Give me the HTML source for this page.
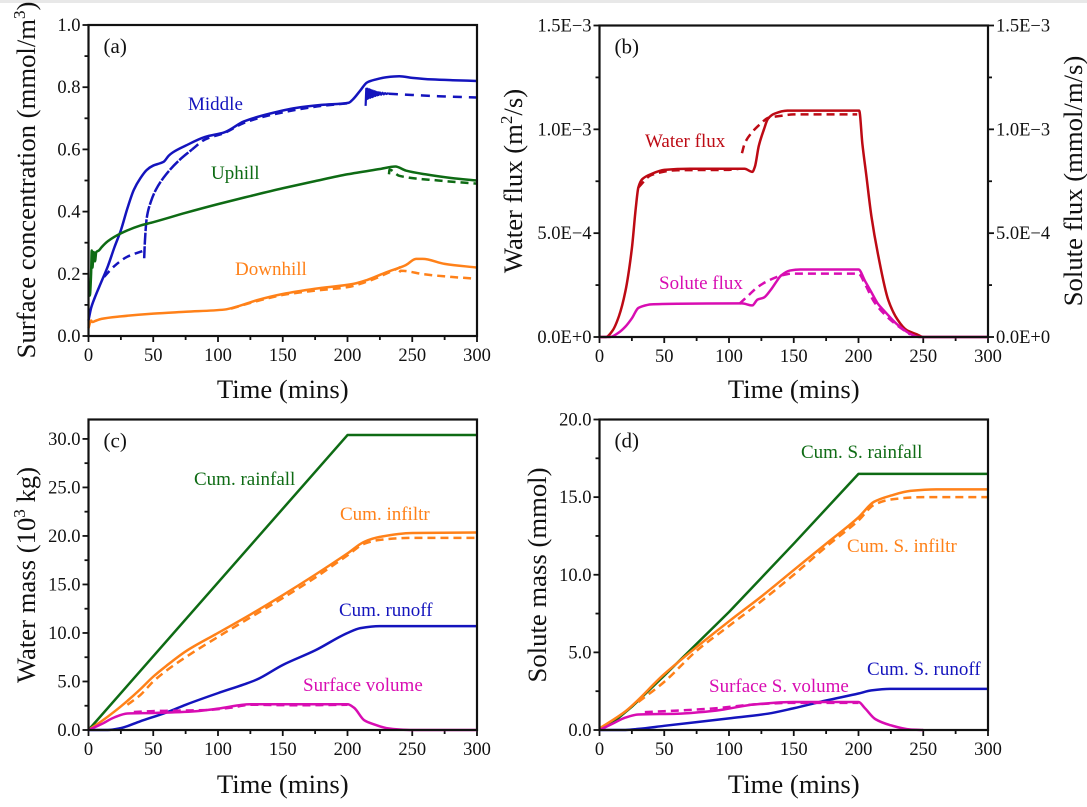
<!DOCTYPE html>
<html lang="en">
<head>
<meta charset="utf-8">
<title>Surface concentration, flux and mass charts</title>
<style>
html,body{margin:0;padding:0;background:#fff;width:1087px;height:807px;overflow:hidden}
svg{display:block;font-family:"Liberation Serif",serif}
</style>
</head>
<body>
<svg id="chart" xmlns="http://www.w3.org/2000/svg" width="1087" height="807" viewBox="0 0 1087 807"></svg>
<script>
// Shared axis data
const xTickValues = [0, 50, 100, 150, 200, 250, 300];
const aYTicks = [0, 0.2, 0.4, 0.6, 0.8, 1.0];
const bYTicks = [0, 0.5, 1.0, 1.5];
const bYTickLabels = ['0.0E+0', '5.0E\u22124', '1.0E\u22123', '1.5E\u22123'];
const cYTicks = [0, 5, 10, 15, 20, 25, 30];
const dYTicks = [0, 5, 10, 15, 20];

// Panel (a)
const aMiddleT = [0,2,5,10,15,20,25,30,35,40,45,50,55,58,62,65,75,90,105,120,140,160,180,201,204,210,215,222,230,240,250,265,285,300];
const aMiddleV = [0.05,0.09,0.125,0.175,0.225,0.285,0.34,0.41,0.47,0.507,0.534,0.548,0.555,0.56,0.58,0.59,0.612,0.64,0.655,0.69,0.715,0.733,0.743,0.75,0.76,0.79,0.815,0.825,0.832,0.835,0.83,0.825,0.822,0.82];
const aMiddleDash1T = [12,20,30,43];
const aMiddleDash1V = [0.19,0.225,0.255,0.275];
const aMiddleDash2T = [43,43.5,45,48,52,60,70,80];
const aMiddleDash2V = [0.25,0.3,0.38,0.43,0.47,0.52,0.565,0.6];
const aMiddleDash3T = [80,90,105,120,140,160,180,200];
const aMiddleDash3V = [0.6,0.632,0.653,0.685,0.71,0.727,0.74,0.748];
const aMiddleWedgeT = [214,214.5,215,215.5,216,217,217.5,218,219,219.5,220,221,221.5,222,223,223.5,224,225,226,227,228,229,230,231,232];
const aMiddleWedgeV = [0.74,0.795,0.762,0.795,0.764,0.793,0.766,0.791,0.768,0.789,0.77,0.787,0.772,0.785,0.774,0.784,0.775,0.783,0.776,0.782,0.777,0.781,0.778,0.78,0.779];
const aMiddleTailT = [232,250,270,300];
const aMiddleTailV = [0.779,0.775,0.771,0.767];
const aUphillT = [0,1,2,2.5,3,4,5,6,8,10,15,25,40,50,75,100,125,150,175,200,225,237,245,260,280,300];
const aUphillV = [0.13,0.13,0.2,0.275,0.22,0.27,0.24,0.27,0.275,0.285,0.305,0.33,0.355,0.366,0.396,0.424,0.45,0.475,0.498,0.52,0.537,0.545,0.532,0.52,0.508,0.5];
const aUphillDashT = [232,232.5,240,270,300];
const aUphillDashV = [0.52,0.535,0.515,0.5,0.49];
const aDownhillT = [0,1,2,3,5,10,25,50,75,105,115,130,150,175,205,215,230,245,253,258,275,300];
const aDownhillV = [0.025,0.04,0.05,0.045,0.048,0.055,0.063,0.072,0.078,0.085,0.095,0.115,0.135,0.152,0.168,0.18,0.205,0.228,0.248,0.248,0.232,0.22];
const aDownhillDash1T = [110,130,150,175,200,215,235,241];
const aDownhillDash1V = [0.088,0.112,0.132,0.146,0.157,0.175,0.21,0.222];
const aDownhillDash2T = [240,241,260,280,300];
const aDownhillDash2V = [0.205,0.21,0.198,0.19,0.184];

// Panel (b)
const bWaterT = [0,5,10,15,20,25,28,30,33,40,50,70,105,112,118,120,123,127,130,135,145,199,200.5,203,206,210,215,223,230,237,245,250,300];
const bWaterV = [0,0,0.03,0.1,0.22,0.427,0.62,0.72,0.76,0.785,0.805,0.81,0.81,0.81,0.795,0.82,0.92,1.0,1.05,1.075,1.09,1.09,1.09,0.93,0.78,0.58,0.4,0.178,0.085,0.034,0.013,0,0];
const bWaterDashT = [30,40,60,100,108];
const bWaterDashV = [0.72,0.78,0.803,0.805,0.81];
const bWaterDash2T = [110,112,117,125,130,140,150,199];
const bWaterDash2V = [0.885,0.93,0.98,1.03,1.055,1.065,1.072,1.072];
const bSoluteT = [0,8,15,20,25,30,33,40,60,110,118,122,127,132,137,140,147,155,200,205,210,215,220,230,240,247,250,300];
const bSoluteV = [0,0,0.022,0.05,0.09,0.14,0.148,0.157,0.16,0.162,0.152,0.18,0.19,0.225,0.27,0.295,0.32,0.325,0.325,0.27,0.215,0.16,0.125,0.06,0.015,0,0,0];
const bSoluteDashT = [108,115,122,130,140,148,200,205,212,220,230,240];
const bSoluteDashV = [0.16,0.2,0.24,0.27,0.295,0.305,0.305,0.255,0.17,0.11,0.055,0.012];

// Panel (c)
const cRainT = [0,200,300];
const cRainV = [0,30.4,30.4];
const cInfilT = [0,10,20,30,40,50,60,75,100,125,150,175,200,213,225,250,300];
const cInfilV = [0,0.9,1.9,3.0,4.2,5.5,6.6,8.1,10,11.9,13.9,16,18.2,19.4,19.9,20.3,20.35];
const cInfilDashT = [30,40,50,60,75,100,125,150,175,200,213,225,250,300];
const cInfilDashV = [2.6,3.6,5,6.1,7.5,9.6,11.6,13.6,15.7,18,19.2,19.6,19.8,19.8];
const cRunoffT = [0,15,25,40,60,75,100,120,130,150,175,200,210,225,300];
const cRunoffV = [0,0,0.2,0.9,1.8,2.6,3.8,4.7,5.2,6.7,8.2,10,10.5,10.7,10.7];
const cSurfaceT = [0,10,20,30,50,80,100,125,200,205,213,220,230,240,250,300];
const cSurfaceV = [0,0.6,1.3,1.7,1.75,1.9,2.2,2.65,2.65,2.3,1,0.6,0.2,0.05,0,0];
const cSurfaceDashT = [35,50,70,90,110,125,160,200];
const cSurfaceDashV = [1.85,1.95,2,2.05,2.3,2.6,2.55,2.6];

// Panel (d)
const dRainT = [0,10,25,50,100,150,200,300];
const dRainV = [0,0.45,1.5,3.5,7.6,12,16.5,16.5];
const dInfilT = [0,20,50,100,125,150,175,200,212,225,240,260,300];
const dInfilV = [0.1,1.2,3.6,7.0,8.6,10.3,12,13.7,14.7,15.1,15.4,15.5,15.5];
const dInfilDashT = [30,50,75,100,125,150,175,200,212,225,250,300];
const dInfilDashV = [1.8,3.1,5.1,6.7,8.3,10,11.8,13.5,14.5,14.85,15,15];
const dRunoffT = [0,20,30,50,100,130,150,175,200,210,225,300];
const dRunoffV = [0,0,0.07,0.27,0.75,1.05,1.4,1.9,2.35,2.55,2.65,2.65];
const dSurfaceT = [0,10,20,30,60,90,120,150,200,205,213,225,240,250];
const dSurfaceV = [0,0.4,0.8,1.0,1.05,1.25,1.65,1.8,1.8,1.4,0.7,0.3,0.03,0];
const dSurfaceDashT = [35,60,90,120,150,200];
const dSurfaceDashV = [1.15,1.25,1.4,1.65,1.75,1.75];

const BLUE = '#1414bd', GREEN = '#0e6b14', ORANGE = '#ff8119', RED = '#bd0a14', MAGENTA = '#d80db2';
const svg = document.getElementById('chart');
const NS = 'http://www.w3.org/2000/svg';

function make(tag, attrs, name, parent) {
  const el = document.createElementNS(NS, tag);
  for (const k in attrs) el.setAttribute(k, attrs[k]);
  
  
  (parent || svg).appendChild(el);
  return el;
}
function label(x, y, str, size, fill, anchor, name, parent) {
  const t = make('text', {x: x, y: y, 'font-size': size, fill: fill, 'text-anchor': anchor}, name, parent);
  t.textContent = str;
  return t;
}
function rotLabel(x, y, parts, name) {
  const t = make('text', {transform: 'translate(' + x + ',' + y + ') rotate(-90)', 'font-size': 26.7, fill: '#111', 'text-anchor': 'middle'}, name);
  parts.forEach(function (p) {
    const s = document.createElementNS(NS, 'tspan');
    s.textContent = p[0];
    if (p[1]) { s.setAttribute('dy', '-10'); s.setAttribute('font-size', '17'); }
    if (p[2]) { s.setAttribute('dy', '10'); }
    t.appendChild(s);
  });
}
// Monotone cubic path through pixel points so curves stay smooth without overshoot.
function smoothPath(px, py) {
  const n = px.length, d = [], m = [];
  for (let i = 0; i < n - 1; i++) d.push((py[i + 1] - py[i]) / ((px[i + 1] - px[i]) || 0.001));
  m[0] = d[0];
  m[n - 1] = d[n - 2];
  for (let i = 1; i < n - 1; i++) {
    if (d[i - 1] * d[i] <= 0) { m[i] = 0; continue; }
    const h0 = px[i] - px[i - 1], h1 = px[i + 1] - px[i];
    m[i] = (3 * (h0 + h1)) / ((2 * h1 + h0) / d[i - 1] + (h1 + 2 * h0) / d[i]);
  }
  let out = 'M' + px[0].toFixed(2) + ' ' + py[0].toFixed(2);
  for (let i = 0; i < n - 1; i++) {
    const h = (px[i + 1] - px[i]) / 3;
    out += 'C' + (px[i] + h).toFixed(2) + ' ' + (py[i] + m[i] * h).toFixed(2) + ' ' +
      (px[i + 1] - h).toFixed(2) + ' ' + (py[i + 1] - m[i + 1] * h).toFixed(2) + ' ' +
      px[i + 1].toFixed(2) + ' ' + py[i + 1].toFixed(2);
  }
  return out;
}

function panel(p) {
  const g = make('g', {}, 'panel-' + p.id);
  const sx = function (v) { return p.x0 + v / 300 * (p.x1 - p.x0); };
  const sy = function (v) { return p.y0 - v / p.yMax * (p.y0 - p.y1); };
  const ink = '#111';
  function tick(x1, y1, x2, y2, name) {
    make('line', {x1: x1, y1: y1, x2: x2, y2: y2, stroke: ink, 'stroke-width': 1.8}, name, g);
  }
  xTickValues.forEach(function (v, i) {
    tick(sx(v), p.y0, sx(v), p.y0 + 6, 'x-tick');
    label(sx(v), p.y0 + 25, String(v), 18.5, ink, 'middle', 'x-tick-label', g);
    if (i < xTickValues.length - 1) tick(sx(v + 25), p.y0, sx(v + 25), p.y0 + 4, 'x-minor-tick');
  });
  p.yTicks.forEach(function (v, i) {
    const txt = p.yLabels ? p.yLabels[i] : v.toFixed(1);
    tick(p.x0 - 6, sy(v), p.x0, sy(v), 'y-tick');
    label(p.x0 - 8, sy(v) + 6, txt, 18.5, ink, 'end', 'y-tick-label', g);
    if (p.right) {
      tick(p.x1, sy(v), p.x1 + 6, sy(v), 'right-y-tick');
      label(p.x1 + 8, sy(v) + 6, txt, 18.5, ink, 'start', 'right-y-tick-label', g);
    }
    const mid = v + p.yMinor;
    if (mid < p.yMax) {
      tick(p.x0 - 4, sy(mid), p.x0, sy(mid), 'y-minor-tick');
      if (p.right) tick(p.x1, sy(mid), p.x1 + 4, sy(mid), 'right-y-minor-tick');
    }
  });
  p.series.forEach(function (s) {
    const attrs = {fill: 'none', stroke: s.c, 'stroke-width': s.w || 2.5, 'stroke-linejoin': 'round'};
    if (s.dash) attrs['stroke-dasharray'] = s.dash;
    if (s.sharp) {
      attrs.points = s.t.map(function (t, i) { return sx(t).toFixed(2) + ',' + sy(s.v[i]).toFixed(2); }).join(' ');
      make('polyline', attrs, s.name, g);
    } else {
      attrs.d = smoothPath(s.t.map(sx), s.v.map(sy));
      make('path', attrs, s.name, g);
    }
  });
  make('rect', {x: p.x0, y: p.y1, width: p.x1 - p.x0, height: p.y0 - p.y1, fill: 'none', stroke: ink, 'stroke-width': 2.2}, 'plot-frame', g);
  label(p.x0 + 15, p.y1 + 28, p.tag, 21, ink, 'start', 'panel-tag', g);
  p.notes.forEach(function (n) {
    label(n[0], n[1], n[2], 19, n[3], 'start', 'series-label', g);
  });
  label((p.x0 + p.x1) / 2, p.titleY, 'Time (mins)', 26.7, ink, 'middle', 'x-axis-title', g);
}

make('rect', {x: 0, y: 0, width: 1087, height: 3, fill: '#e8e8e8'}, 'top-edge-strip');

panel({id: 'a', tag: '(a)', x0: 88.5, x1: 477, y0: 336, y1: 25, yMax: 1.0, yTicks: aYTicks, yMinor: 0.1, titleY: 398,
  series: [
    {t: aMiddleT, v: aMiddleV, c: BLUE, name: 'middle-measured-line'},
    {t: aMiddleDash1T, v: aMiddleDash1V, c: BLUE, dash: '8 5', name: 'middle-simulated-early'},
    {t: aMiddleDash2T, v: aMiddleDash2V, c: BLUE, dash: '12 1.5', name: 'middle-simulated-rise'},
    {t: aMiddleDash3T, v: aMiddleDash3V, c: BLUE, dash: '8 5', name: 'middle-simulated-mid'},
    {t: aMiddleWedgeT, v: aMiddleWedgeV, c: BLUE, w: 2.2, sharp: true, name: 'middle-simulated-oscillation'},
    {t: aMiddleTailT, v: aMiddleTailV, c: BLUE, dash: '9 7', name: 'middle-simulated-tail'},
    {t: aUphillT, v: aUphillV, c: GREEN, name: 'uphill-measured-line'},
    {t: aUphillDashT, v: aUphillDashV, c: GREEN, dash: '8 5', name: 'uphill-simulated-tail'},
    {t: aDownhillT, v: aDownhillV, c: ORANGE, name: 'downhill-measured-line'},
    {t: aDownhillDash1T, v: aDownhillDash1V, c: ORANGE, dash: '8 5', name: 'downhill-simulated-mid'},
    {t: aDownhillDash2T, v: aDownhillDash2V, c: ORANGE, dash: '8 5', name: 'downhill-simulated-tail'}
  ],
  notes: [[188, 110, 'Middle', BLUE], [211, 179, 'Uphill', GREEN], [235, 275, 'Downhill', ORANGE]]});

panel({id: 'b', tag: '(b)', x0: 599.5, x1: 988, y0: 337, y1: 25.5, yMax: 1.5, yTicks: bYTicks, yLabels: bYTickLabels, yMinor: 0.25, right: true, titleY: 398,
  series: [
    {t: bWaterT, v: bWaterV, c: RED, name: 'water-flux-line'},
    {t: bWaterDashT, v: bWaterDashV, c: RED, dash: '8 5', name: 'water-flux-dashed-early'},
    {t: bWaterDash2T, v: bWaterDash2V, c: RED, dash: '8 5', name: 'water-flux-dashed-late'},
    {t: bSoluteT, v: bSoluteV, c: MAGENTA, name: 'solute-flux-line'},
    {t: bSoluteDashT, v: bSoluteDashV, c: MAGENTA, dash: '8 5', name: 'solute-flux-dashed'}
  ],
  notes: [[645, 147, 'Water flux', RED], [659, 289, 'Solute flux', MAGENTA]]});

panel({id: 'c', tag: '(c)', x0: 88.5, x1: 477, y0: 730, y1: 419.5, yMax: 32, yTicks: cYTicks, yMinor: 2.5, titleY: 793,
  series: [
    {t: cRainT, v: cRainV, c: GREEN, sharp: true, name: 'cum-rainfall-line'},
    {t: cInfilT, v: cInfilV, c: ORANGE, name: 'cum-infiltration-line'},
    {t: cInfilDashT, v: cInfilDashV, c: ORANGE, dash: '8 5', name: 'cum-infiltration-dashed'},
    {t: cRunoffT, v: cRunoffV, c: BLUE, name: 'cum-runoff-line'},
    {t: cSurfaceT, v: cSurfaceV, c: MAGENTA, name: 'surface-volume-line'},
    {t: cSurfaceDashT, v: cSurfaceDashV, c: MAGENTA, dash: '8 5', name: 'surface-volume-dashed'}
  ],
  notes: [[194, 485, 'Cum. rainfall', GREEN], [340, 520, 'Cum. infiltr', ORANGE], [339, 616, 'Cum. runoff', BLUE], [303, 691, 'Surface volume', MAGENTA]]});

panel({id: 'd', tag: '(d)', x0: 599.5, x1: 988, y0: 730, y1: 419.5, yMax: 20, yTicks: dYTicks, yMinor: 2.5, titleY: 793,
  series: [
    {t: dRainT, v: dRainV, c: GREEN, sharp: true, name: 'cum-solute-rainfall-line'},
    {t: dInfilT, v: dInfilV, c: ORANGE, name: 'cum-solute-infiltration-line'},
    {t: dInfilDashT, v: dInfilDashV, c: ORANGE, dash: '8 5', name: 'cum-solute-infiltration-dashed'},
    {t: dRunoffT, v: dRunoffV, c: BLUE, name: 'cum-solute-runoff-line'},
    {t: dSurfaceT, v: dSurfaceV, c: MAGENTA, name: 'surface-solute-volume-line'},
    {t: dSurfaceDashT, v: dSurfaceDashV, c: MAGENTA, dash: '8 5', name: 'surface-solute-volume-dashed'}
  ],
  notes: [[801, 458, 'Cum. S. rainfall', GREEN], [847, 552, 'Cum. S. infiltr', ORANGE], [867, 675, 'Cum. S. runoff', BLUE], [709, 692, 'Surface S. volume', MAGENTA]]});

rotLabel(35, 180, [['Surface concentration (mmol/m'], ['3', true], [')', false, true]], 'panel-a-y-axis-title');
rotLabel(522, 181, [['Water flux (m'], ['2', true], ['/s)', false, true]], 'panel-b-y-axis-title');
rotLabel(1082, 181, [['Solute flux (mmol/m/s)']], 'panel-b-right-y-axis-title');
rotLabel(35, 575, [['Water mass (10'], ['3', true], [' kg)', false, true]], 'panel-c-y-axis-title');
rotLabel(546, 575, [['Solute mass (mmol)']], 'panel-d-y-axis-title');
</script>
</body>
</html>
